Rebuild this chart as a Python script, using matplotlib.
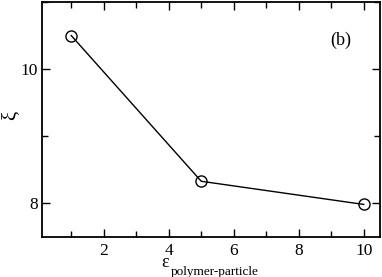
import matplotlib
matplotlib.use("Agg")
import matplotlib.pyplot as plt
from matplotlib.ticker import MultipleLocator

eps = [1, 5, 10]
xi = [10.50, 8.33, 7.985]

plt.rcParams['font.family'] = ['Liberation Serif', 'DejaVu Serif']
plt.rcParams['mathtext.fontset'] = 'custom'
plt.rcParams['mathtext.rm'] = 'Liberation Serif'
plt.rcParams['mathtext.it'] = 'Liberation Serif:italic'

W, H = 382, 277
fig = plt.figure(figsize=(W/100, H/100), dpi=100)
ax = fig.add_axes([42/W, 1-237/H, (380-42)/W, (237-2)/H])
ax.plot(eps, xi, color='black', lw=1.0, marker='o', ms=8, mfc='none', mec='black', mew=1.0)
ax.set_xlim(0.1, 10.5)
ax.set_ylim(7.5, 11.0)
ax.xaxis.set_major_locator(MultipleLocator(2))
ax.xaxis.set_minor_locator(MultipleLocator(1))
ax.yaxis.set_major_locator(MultipleLocator(2))
ax.yaxis.set_minor_locator(MultipleLocator(1))
ax.tick_params(which='both', direction='in', top=True, right=True, width=1.0, labelsize=12.5)
ax.tick_params(which='major', length=6)
ax.tick_params(which='minor', length=4)
ax.tick_params(axis='x', pad=4)
ax.tick_params(axis='y', pad=3)
for s in ax.spines.values():
    s.set_linewidth(1.3)

ax.text(9.3, 10.43, '(b)', fontsize=13, ha='center', va='center')
fig.text(11/W, 1-115/H, 'ξ', fontsize=15, rotation=90, ha='center', va='center')
fig.text(170.5/W, 1-267/H, r'$\mathrm{ε}$', fontsize=13, ha='right', va='baseline')
fig.text(170.5/W, 1-274.5/H, 'polymer-particle', fontsize=9.5, ha='left', va='baseline')

fig.savefig('out.png', dpi=100)
